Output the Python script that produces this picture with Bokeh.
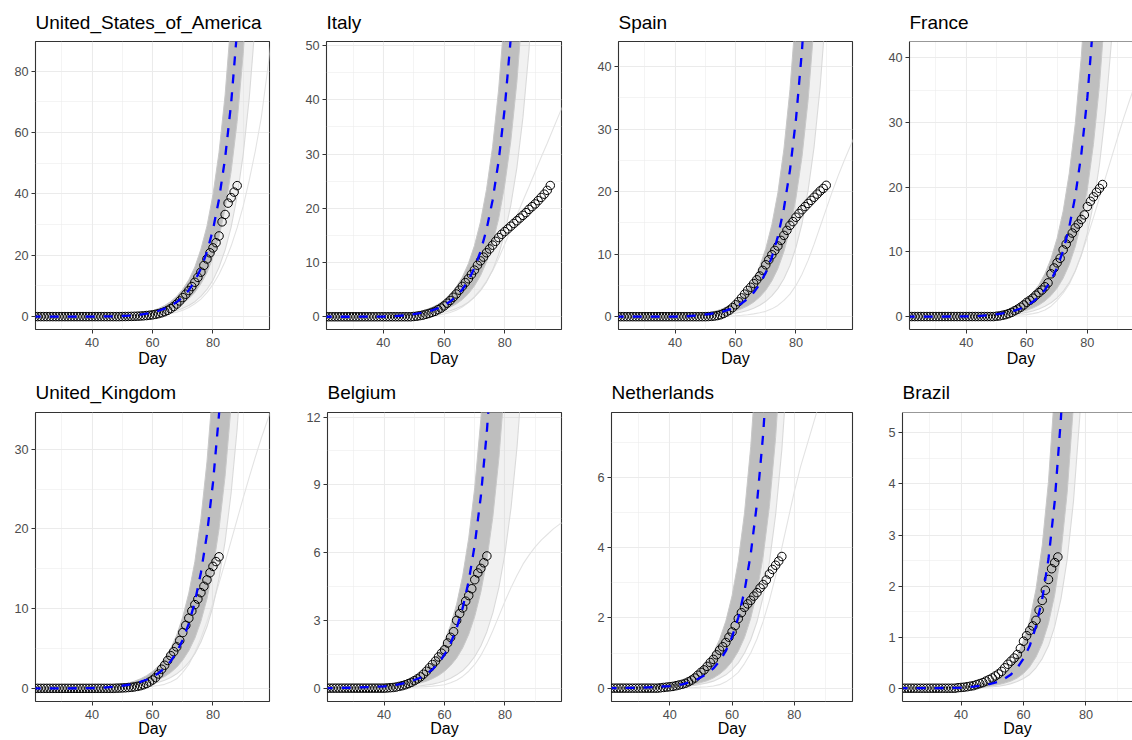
from bokeh.plotting import figure
from bokeh.models import Range1d, FixedTicker, Span
from bokeh.layouts import row, column
from bokeh.embed import file_html
from bokeh.resources import INLINE

# ---------------- data ----------------
curve_day = [20, 30, 40, 44, 48, 52, 54, 56, 58, 60, 62, 64, 66, 68, 70, 72, 74, 76, 78, 80,
             82, 84, 86, 88, 90, 92, 94, 96, 98, 100]
x_ticks = [40, 60, 80]
x_minor = [30, 50, 70, 90]

# United_States_of_America
usa_days = list(range(20, 89))
usa_obs = [0, 0, 0, 0, 0, 0, 0, 0, 0, 0,
           0, 0, 0, 0, 0, 0, 0, 0, 0, 0,
           0, 0, 0, 0, 0, 0, 0, 0, 0, 0,
           0.02, 0.03, 0.05, 0.07, 0.1, 0.14, 0.19, 0.26, 0.35, 0.45,
           0.58, 0.75, 0.97, 1.25, 1.6, 2.05, 2.6, 3.3, 4.1, 5.1,
           6.2, 7.3, 8.5, 9.8, 11.2, 12.8, 14.5, 16.7, 18.8, 20.8,
           22.4, 24.1, 26.3, 30.9, 33.3, 37.0, 38.8, 40.6, 42.7]
usa_median = [0, 0.005, 0.02, 0.05, 0.13, 0.3, 0.45, 0.65, 0.95, 1.35, 1.9, 2.6, 3.5, 4.75, 6.4,
              8.6, 11.6, 15.7, 21.1, 28.4, 38.3, 51.6, 69.5, 93.6]
usa_hi = [0, 0.007, 0.03, 0.07, 0.18, 0.42, 0.63, 0.91, 1.33, 1.9, 2.66, 3.64, 4.9, 6.65, 8.96,
          12.0, 16.2, 22.0, 29.5, 39.8, 53.6, 72.2, 97.3]
usa_lo = [0, 0.003, 0.01, 0.03, 0.09, 0.2, 0.31, 0.44, 0.65, 0.92, 1.29, 1.77, 2.38, 3.23, 4.35,
          5.85, 7.89, 10.7, 14.3, 19.3, 26.0, 35.1, 47.3, 63.6, 85.7, 115.0]
usa_light = [0, 0.002, 0.01, 0.02, 0.05, 0.13, 0.19, 0.27, 0.4, 0.57, 0.8, 1.09, 1.47, 2.0, 2.69,
             3.61, 4.87, 6.59, 8.86, 11.9, 16.1, 21.7, 29.2, 39.3, 52.9, 71.3, 96.0]
usa_outlier = [0, 0, 0, 0.01, 0.03, 0.07, 0.1, 0.15, 0.22, 0.33, 0.48, 0.7, 1.0, 1.45, 2.1, 3.0,
               4.2, 5.7, 7.8, 10.5, 13.8, 18.0, 23.0, 29.0, 36.0, 44.5, 54.0, 65.0, 80.0, 96.0]
usa_ylim = (-4.2, 89.7)
usa_yticks = [0, 20, 40, 60, 80]
usa_yminor = [10, 30, 50, 70]

# Italy
italy_days = list(range(20, 96))
italy_obs = [0, 0, 0, 0, 0, 0, 0, 0, 0, 0,
             0, 0, 0, 0, 0, 0, 0, 0, 0, 0,
             0, 0, 0, 0, 0, 0, 0, 0, 0, 0,
             0.05, 0.1, 0.2, 0.3, 0.45, 0.6, 0.8, 1.0, 1.3, 1.6,
             2.0, 2.5, 3.0, 3.6, 4.2, 4.9, 5.6, 6.3, 7.0, 7.8,
             8.6, 9.5, 10.3, 11.0, 11.8, 12.5, 13.2, 13.9, 14.6, 15.2,
             15.7, 16.2, 16.7, 17.2, 17.7, 18.2, 18.7, 19.2, 19.8, 20.3,
             20.8, 21.4, 22.0, 22.6, 23.3, 24.2]
italy_median = [0, 0, 0.03, 0.1, 0.3, 0.66, 0.88, 1.17, 1.57, 2.1, 2.8, 3.75, 5.0, 6.7, 9.0, 12.0,
                16.1, 21.5, 28.8, 38.5, 51.5]
italy_hi = [0, 0, 0.04, 0.15, 0.44, 0.96, 1.28, 1.71, 2.29, 3.07, 4.09, 5.48, 7.3, 9.78, 13.1,
            17.5, 23.5, 31.4, 42.0, 56.2]
italy_lo = [0, 0, 0.02, 0.06, 0.19, 0.42, 0.55, 0.74, 0.99, 1.32, 1.76, 2.36, 3.15, 4.22, 5.67,
            7.56, 10.1, 13.5, 18.1, 24.3, 32.4, 43.3, 57.9]
italy_light = [0, 0, 0.01, 0.04, 0.12, 0.26, 0.35, 0.47, 0.63, 0.84, 1.12, 1.5, 2.0, 2.68, 3.6,
               4.8, 6.44, 8.6, 11.5, 15.4, 20.6, 27.5, 36.8, 49.2, 65.8]
italy_outlier = [0, 0, 0, 0.01, 0.05, 0.1, 0.15, 0.2, 0.3, 0.5, 0.8, 1.2, 1.8, 2.6, 3.7, 5.0,
                 6.6, 8.5, 10.8, 13.4, 16.0, 18.7, 21.4, 24.0, 26.7, 29.4, 32.0, 34.7, 37.4, 40.0]
italy_ylim = (-2.35, 50.75)
italy_yticks = [0, 10, 20, 30, 40, 50]
italy_yminor = [5, 15, 25, 35, 45]

# Spain
spain_days = list(range(20, 91))
spain_obs = [0, 0, 0, 0, 0, 0, 0, 0, 0, 0,
             0, 0, 0, 0, 0, 0, 0, 0, 0, 0,
             0, 0, 0, 0, 0, 0, 0, 0, 0, 0,
             0.0, 0.02, 0.05, 0.1, 0.18, 0.3, 0.5, 0.75, 1.05, 1.45,
             1.9, 2.4, 3.0, 3.6, 4.2, 4.7, 5.3, 5.9, 6.5, 7.4,
             8.3, 9.1, 9.9, 10.6, 11.3, 12.2, 13.0, 13.8, 14.6, 15.2,
             15.9, 16.5, 17.1, 17.6, 18.1, 18.6, 19.1, 19.6, 20.1, 20.5,
             21.0]
spain_median = [0, 0, 0.02, 0.07, 0.2, 0.47, 0.64, 0.86, 1.16, 1.57, 2.12, 2.86, 3.86, 5.21,
                7.04, 9.5, 12.8, 17.3, 23.4, 31.6, 42.7, 57.6]
spain_hi = [0, 0, 0.03, 0.11, 0.31, 0.73, 0.99, 1.33, 1.8, 2.43, 3.29, 4.43, 5.98, 8.08, 10.9,
            14.7, 19.8, 26.8, 36.3, 49.0]
spain_lo = [0, 0, 0.01, 0.04, 0.12, 0.28, 0.38, 0.52, 0.7, 0.94, 1.27, 1.72, 2.32, 3.13, 4.22,
            5.7, 7.68, 10.4, 14.0, 19.0, 25.6, 34.6, 46.7]
spain_light = [0, 0, 0.01, 0.02, 0.07, 0.16, 0.22, 0.3, 0.41, 0.55, 0.74, 1.0, 1.35, 1.82, 2.46,
               3.33, 4.48, 6.06, 8.19, 11.1, 14.9, 20.2, 27.2, 36.8, 49.6]
spain_outlier = [0, 0, 0, 0, 0.01, 0.03, 0.05, 0.07, 0.1, 0.15, 0.22, 0.32, 0.45, 0.62, 0.85,
                 1.25, 1.8, 2.6, 3.6, 5.0, 6.8, 9.0, 11.6, 14.4, 17.2, 20.0, 22.6, 25.0, 27.3, 29.5]
spain_ylim = (-2.05, 44.0)
spain_yticks = [0, 10, 20, 30, 40]
spain_yminor = [5, 15, 25, 35]

# France
france_days = list(range(20, 86))
france_obs = [0, 0, 0, 0, 0, 0, 0, 0, 0, 0,
              0, 0, 0, 0, 0, 0, 0, 0, 0, 0,
              0, 0, 0, 0, 0, 0, 0, 0, 0, 0,
              0.05, 0.1, 0.2, 0.3, 0.45, 0.65, 0.9, 1.15, 1.45, 1.8,
              2.2, 2.5, 2.85, 3.3, 3.7, 4.1, 4.6, 5.2, 6.6, 7.5,
              8.3, 9.0, 10.3, 11.2, 12.1, 12.9, 13.7, 14.3, 15.0, 15.7,
              17.0, 17.8, 18.5, 19.2, 19.8, 20.4]
france_median = [0, 0, 0.02, 0.08, 0.22, 0.5, 0.68, 0.92, 1.25, 1.69, 2.28, 3.07, 4.15, 5.6,
                 7.56, 10.2, 13.8, 18.6, 25.1, 33.9, 45.8]
france_hi = [0, 0, 0.03, 0.13, 0.35, 0.8, 1.09, 1.47, 2.0, 2.7, 3.65, 4.91, 6.64, 8.96, 12.1,
             16.3, 22.1, 29.8, 40.2, 54.2]
france_lo = [0, 0, 0.01, 0.05, 0.13, 0.29, 0.39, 0.53, 0.73, 0.98, 1.32, 1.78, 2.41, 3.25, 4.38,
             5.92, 8.0, 10.8, 14.6, 19.7, 26.6, 35.8, 48.3]
france_light = [0, 0, 0.01, 0.03, 0.08, 0.19, 0.26, 0.35, 0.48, 0.64, 0.87, 1.17, 1.58, 2.13,
                2.87, 3.88, 5.24, 7.07, 9.54, 12.9, 17.4, 23.5, 31.7, 42.8, 57.8]
france_outlier = [0, 0, 0, 0.02, 0.05, 0.1, 0.14, 0.2, 0.25, 0.3, 0.45, 0.65, 1.0, 1.6, 2.5, 3.6,
                  5.0, 7.0, 9.5, 12.3, 15.3, 18.4, 21.5, 24.6, 27.7, 30.7, 33.5, 36.2, 38.8, 41.3]
france_ylim = (-2.0, 42.5)
france_yticks = [0, 10, 20, 30, 40]
france_yminor = [5, 15, 25, 35]

# United_Kingdom
uk_days = list(range(20, 83))
uk_obs = [0, 0, 0, 0, 0, 0, 0, 0, 0, 0,
          0, 0, 0, 0, 0, 0, 0, 0, 0, 0,
          0, 0, 0, 0, 0, 0, 0, 0,
          0.02, 0.03,
          0.05, 0.07, 0.1, 0.13, 0.18, 0.25, 0.33, 0.45, 0.6, 0.8,
          1.05, 1.35, 1.8, 2.4, 2.9, 3.5, 4.1, 4.6, 5.2, 6.0,
          7.0, 7.9, 8.8, 9.7, 10.5, 11.2, 12.0, 12.8, 13.6, 14.5,
          15.3, 15.9, 16.5]
uk_median = [0, 0, 0.03, 0.1, 0.22, 0.45, 0.61, 0.81, 1.08, 1.44, 1.92, 2.56, 3.41, 4.56, 6.1,
             8.13, 10.85, 14.5, 19.3, 25.8, 34.4, 45.9]
uk_hi = [0, 0, 0.04, 0.15, 0.32, 0.66, 0.9, 1.19, 1.59, 2.12, 2.82, 3.76, 5.01, 6.7, 8.97, 11.95,
         15.9, 21.3, 28.4, 37.9]
uk_lo = [0, 0, 0.02, 0.06, 0.13, 0.26, 0.35, 0.47, 0.63, 0.84, 1.11, 1.48, 1.98, 2.64, 3.54,
         4.72, 6.29, 8.41, 11.2, 15.0, 20.0, 26.6, 35.5]
uk_light = [0, 0, 0.01, 0.04, 0.09, 0.18, 0.24, 0.32, 0.43, 0.58, 0.77, 1.02, 1.36, 1.82, 2.44,
            3.25, 4.34, 5.8, 7.72, 10.3, 13.8, 18.4, 24.5, 32.6, 43.5]
uk_outlier = [0, 0, 0, 0.01, 0.03, 0.05, 0.08, 0.12, 0.18, 0.26, 0.36, 0.5, 0.8, 1.2, 2.0, 3.0,
              4.5, 6.3, 8.4, 10.7, 13.2, 15.8, 18.5, 21.2, 23.9, 26.5, 29.0, 31.4, 33.6, 35.7]
uk_ylim = (-1.65, 34.6)
uk_yticks = [0, 10, 20, 30]
uk_yminor = [5, 15, 25]

# Belgium
belgium_days = list(range(20, 75))
belgium_obs = [0, 0, 0, 0, 0, 0, 0, 0, 0, 0,
               0, 0, 0, 0, 0, 0, 0, 0, 0, 0,
               0.0, 0.01, 0.02, 0.03, 0.05, 0.08, 0.11, 0.15, 0.2, 0.26,
               0.33, 0.41, 0.5, 0.62, 0.75, 0.9, 1.05, 1.2, 1.38, 1.55,
               1.7, 2.0, 2.25, 2.5, 3.0, 3.3, 3.55, 3.85, 4.1, 4.4,
               4.8, 5.1, 5.3, 5.55, 5.85]
belgium_median = [0, 0.02, 0.08, 0.15, 0.26, 0.46, 0.62, 0.83, 1.11, 1.49, 1.99, 2.66, 3.55,
                  4.75, 6.35, 8.49, 11.35, 15.2]
belgium_hi = [0, 0.03, 0.11, 0.2, 0.36, 0.64, 0.87, 1.16, 1.55, 2.09, 2.79, 3.72, 4.97, 6.65,
              8.89, 11.9, 15.9]
belgium_lo = [0, 0.01, 0.04, 0.07, 0.13, 0.23, 0.31, 0.42, 0.56, 0.75, 1.0, 1.33, 1.78, 2.38,
              3.18, 4.25, 5.68, 7.6, 10.2, 13.6]
belgium_light = [0, 0, 0.02, 0.03, 0.06, 0.1, 0.14, 0.18, 0.24, 0.33, 0.44, 0.59, 0.78, 1.05,
                 1.4, 1.87, 2.5, 3.34, 4.47, 5.97, 7.98, 10.7, 14.3]
belgium_outlier = [0, 0, 0.01, 0.02, 0.03, 0.05, 0.07, 0.09, 0.12, 0.15, 0.24, 0.35, 0.52, 0.75,
                   1.05, 1.45, 1.95, 2.55, 3.2, 3.85, 4.45, 5.0, 5.5, 5.9, 6.25, 6.55, 6.8, 7.05,
                   7.25, 7.4]
belgium_ylim = (-0.59, 12.2)
belgium_yticks = [0, 3, 6, 9, 12]
belgium_yminor = [1.5, 4.5, 7.5, 10.5]

# Netherlands
netherlands_days = list(range(20, 77))
netherlands_obs = [0, 0, 0, 0, 0, 0, 0, 0, 0, 0,
                   0, 0, 0, 0, 0, 0,
                   0.0, 0.01, 0.02, 0.03,
                   0.04, 0.05, 0.07, 0.09, 0.11, 0.14, 0.18, 0.23, 0.29, 0.37,
                   0.45, 0.52, 0.62, 0.73, 0.82, 0.95, 1.08, 1.18, 1.3, 1.45,
                   1.6, 1.78, 1.98, 2.15, 2.3, 2.4, 2.5, 2.62, 2.72, 2.85,
                   2.95, 3.08, 3.25, 3.38, 3.5, 3.62, 3.75]
netherlands_median = [0, 0.01, 0.06, 0.11, 0.21, 0.41, 0.56, 0.77, 1.06, 1.46, 2.01, 2.77, 3.82,
                      5.26, 7.24, 9.97]
netherlands_hi = [0, 0.02, 0.11, 0.2, 0.38, 0.74, 1.01, 1.39, 1.91, 2.63, 3.62, 4.99, 6.88, 9.47]
netherlands_lo = [0, 0.01, 0.03, 0.06, 0.11, 0.21, 0.29, 0.4, 0.55, 0.76, 1.05, 1.44, 1.99, 2.74,
                  3.76, 5.18, 7.14, 9.83]
netherlands_light = [0, 0, 0.02, 0.04, 0.08, 0.15, 0.2, 0.28, 0.38, 0.53, 0.72, 1.0, 1.38, 1.89,
                     2.61, 3.59, 4.94, 6.8, 9.37]
netherlands_outlier = [0, 0, 0, 0.01, 0.02, 0.04, 0.06, 0.1, 0.18, 0.3, 0.45, 0.7, 1.0, 1.4, 1.9,
                       2.5, 3.2, 4.0, 4.8, 5.6, 6.3, 6.9, 7.5, 8.1]
netherlands_ylim = (-0.38, 7.85)
netherlands_yticks = [0, 2, 4, 6]
netherlands_yminor = [1, 3, 5, 7]

# Brazil
brazil_days = list(range(20, 72))
brazil_obs = [0, 0, 0, 0, 0, 0, 0, 0, 0, 0,
              0, 0, 0, 0, 0, 0, 0, 0,
              0.0, 0.01,
              0.015, 0.02, 0.03, 0.04, 0.05, 0.07, 0.09, 0.11, 0.14, 0.17,
              0.2, 0.24, 0.28, 0.33, 0.4, 0.47, 0.53, 0.59, 0.66, 0.78,
              0.92, 1.03, 1.13, 1.22, 1.33, 1.53, 1.72, 1.92, 2.13, 2.34,
              2.46, 2.57]
brazil_median = [0, 0, 0.01, 0.03, 0.06, 0.13, 0.19, 0.27, 0.4, 0.58, 0.83, 1.21, 1.75, 2.53,
                 3.66, 5.3, 7.67]
brazil_hi = [0, 0, 0.02, 0.05, 0.1, 0.21, 0.3, 0.43, 0.64, 0.93, 1.33, 1.94, 2.8, 4.05, 5.86]
brazil_lo = [0, 0, 0.01, 0.02, 0.03, 0.07, 0.1, 0.14, 0.2, 0.29, 0.42, 0.61, 0.88, 1.27, 1.83,
             2.65, 3.84, 5.55]
brazil_light = [0, 0, 0, 0.01, 0.02, 0.04, 0.06, 0.09, 0.13, 0.19, 0.27, 0.4, 0.58, 0.83, 1.21,
                1.75, 2.53, 3.66, 5.3, 7.67]
brazil_outlier = []
brazil_ylim = (-0.26, 5.4)
brazil_yticks = [0, 1, 2, 3, 4, 5]
brazil_yminor = [0.5, 1.5, 2.5, 3.5, 4.5]

panels = [
    ("United_States_of_America", usa_days, usa_obs, usa_median, usa_hi, usa_lo, usa_light, usa_outlier, usa_ylim, usa_yticks, usa_yminor),
    ("Italy", italy_days, italy_obs, italy_median, italy_hi, italy_lo, italy_light, italy_outlier, italy_ylim, italy_yticks, italy_yminor),
    ("Spain", spain_days, spain_obs, spain_median, spain_hi, spain_lo, spain_light, spain_outlier, spain_ylim, spain_yticks, spain_yminor),
    ("France", france_days, france_obs, france_median, france_hi, france_lo, france_light, france_outlier, france_ylim, france_yticks, france_yminor),
    ("United_Kingdom", uk_days, uk_obs, uk_median, uk_hi, uk_lo, uk_light, uk_outlier, uk_ylim, uk_yticks, uk_yminor),
    ("Belgium", belgium_days, belgium_obs, belgium_median, belgium_hi, belgium_lo, belgium_light, belgium_outlier, belgium_ylim, belgium_yticks, belgium_yminor),
    ("Netherlands", netherlands_days, netherlands_obs, netherlands_median, netherlands_hi, netherlands_lo, netherlands_light, netherlands_outlier, netherlands_ylim, netherlands_yticks, netherlands_yminor),
    ("Brazil", brazil_days, brazil_obs, brazil_median, brazil_hi, brazil_lo, brazil_light, brazil_outlier, brazil_ylim, brazil_yticks, brazil_yminor),
]

# ---------------- layout / style ----------------
X_START = 21.26
FONT = "Liberation Sans"
col_width = [298, 292, 290, 252]
row_geom = [  # height, top border, bottom border, left borders, right borders, x ends, title standoff, axis label standoff
    (370, 40, 41, [35, 28, 28, 29], [29, 29, 28, 0], [98.7, 98.7, 98.7, 94.9], 18, 0),
    (370, 42, 39, [35, 29, 21, 22], [29, 29, 28, 0], [98.7, 98.7, 98.7, 94.9], 19, -2),
]


def make_panel(spec, r, c):
    title, days, obs, med, hi, lo, light, outl, ylim, yticks, yminor = spec
    h, bt, bb, bls, brs, xends, t_off, l_off = row_geom[r]
    cut = (c == 3)
    p = figure(width=col_width[c], height=h, output_backend="svg", toolbar_location=None,
               x_range=Range1d(X_START, xends[c]), y_range=Range1d(ylim[0], ylim[1]),
               min_border_left=bls[c], min_border_right=brs[c],
               min_border_top=bt, min_border_bottom=bb, title=title)
    p.background_fill_color = "white"
    p.border_fill_color = "white"
    if cut:
        p.outline_line_color = None
    else:
        p.outline_line_color = "#333333"
        p.outline_line_width = 1.1

    p.title.text_font = FONT
    p.title.text_font_size = "19px"
    p.title.text_font_style = "normal"
    p.title.text_color = "black"
    p.title.align = "left"
    p.title.standoff = t_off

    xt = FixedTicker(ticks=x_ticks, minor_ticks=x_minor)
    yt = FixedTicker(ticks=yticks, minor_ticks=yminor)
    p.xaxis.ticker = xt
    p.xgrid.ticker = xt
    p.yaxis.ticker = yt
    p.ygrid.ticker = yt
    for g in (p.xgrid, p.ygrid):
        g.grid_line_color = "#EBEBEB"
        g.grid_line_width = 1.1
        g.minor_grid_line_color = "#EBEBEB"
        g.minor_grid_line_width = 0.55

    for ax in (p.xaxis, p.yaxis):
        ax.major_label_text_font = FONT
        ax.major_label_text_font_size = "12.7px"
        ax.major_label_text_color = "#4D4D4D"
        ax.major_tick_out = 4
        ax.major_tick_in = 0
        ax.major_tick_line_color = "#333333"
        ax.major_tick_line_width = 1
        ax.minor_tick_line_color = None
        ax.axis_line_color = "#333333" if cut else None
        ax.axis_line_width = 1.1
    p.xaxis.major_label_standoff = 4
    p.yaxis.major_label_standoff = 3
    p.xaxis.axis_label = "Day"
    p.xaxis.axis_label_text_font = FONT
    p.xaxis.axis_label_text_font_size = "16px"
    p.xaxis.axis_label_text_font_style = "normal"
    p.xaxis.axis_label_text_color = "black"
    p.xaxis.axis_label_standoff = l_off
    if cut:
        p.add_layout(Span(location=ylim[1], dimension="width", line_color="#333333", line_width=1.1))

    # faint spread of the slower sample curves (between band's lower edge and the light curve)
    fan_x = curve_day[:len(lo)] + curve_day[:len(light)][::-1]
    fan_y = lo + light[::-1]
    p.patch(fan_x, fan_y, fill_color="#CFCFCF", fill_alpha=0.3, line_color=None)
    # light individual sample curves
    if outl:
        p.line(curve_day[:len(outl)], outl, line_color="#E3E3E3", line_width=1.1)
    p.line(curve_day[:len(light)], light, line_color="#DADADA", line_width=1.1)
    # dense band of sample curves
    band_x = curve_day[:len(hi)] + curve_day[:len(lo)][::-1]
    band_y = hi + lo[::-1]
    p.patch(band_x, band_y, fill_color="#BEBEBE", line_color="#C8C8C8", line_width=1)
    # observed data
    p.scatter(days, obs, marker="circle", size=8.5, fill_color=None,
              line_color="black", line_width=1)
    # median curve
    p.line(curve_day[:len(med)], med, line_color="#0000FF", line_width=2.3, line_dash="9 9")
    return p


figs = [make_panel(spec, i // 4, i % 4) for i, spec in enumerate(panels)]
layout = column(row(*figs[:4]), row(*figs[4:]))

open("out.html", "w").write(file_html(layout, INLINE))
